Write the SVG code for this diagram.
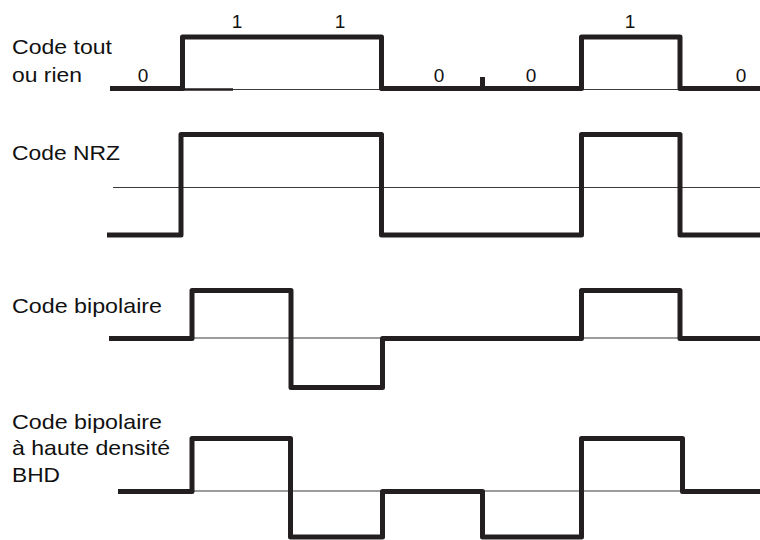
<svg xmlns="http://www.w3.org/2000/svg" width="760" height="540" viewBox="0 0 760 540">
<style>
.bg{fill:#ffffff}
.sig{fill:none;stroke:#231f20;stroke-width:5;stroke-linejoin:round;stroke-linecap:butt}
.ref{fill:none;stroke:#3a3a3a;stroke-width:1.2}
.lbl{font-family:"Liberation Sans",Arial,sans-serif;font-size:21px;fill:#111}
.bit{font-family:"Liberation Sans",Arial,sans-serif;font-size:19px;fill:#111;text-anchor:middle}
</style>
<rect class="bg" x="0" y="0" width="760" height="540"/>

<g id="row-tout-ou-rien">
  <text class="lbl" x="12" y="54" textLength="100" lengthAdjust="spacingAndGlyphs">Code tout</text>
  <text class="lbl" x="12" y="81.5" textLength="70" lengthAdjust="spacingAndGlyphs">ou rien</text>
  <line class="ref" x1="233" y1="89.5" x2="381" y2="89.5"/>
  <line x1="183" y1="89.5" x2="233" y2="89.5" stroke="#231f20" stroke-width="2.5"/>
  <line class="ref" x1="582" y1="89.5" x2="680" y2="89.5"/>
  <path class="sig" d="M110,88.5 H182.5 V37 H381.5 V88.5 H581.5 V37 H680 V88.5 H760"/>
  <line x1="482.5" y1="77" x2="482.5" y2="88" stroke="#231f20" stroke-width="5"/>
  <text class="bit" x="143" y="82">0</text>
  <text class="bit" x="237" y="27.5">1</text>
  <text class="bit" x="340" y="27.5">1</text>
  <text class="bit" x="439" y="82">0</text>
  <text class="bit" x="531" y="82">0</text>
  <text class="bit" x="630" y="27.5">1</text>
  <text class="bit" x="741" y="82">0</text>
</g>

<g id="row-nrz">
  <text class="lbl" x="12" y="160" textLength="108" lengthAdjust="spacingAndGlyphs">Code NRZ</text>
  <line class="ref" x1="113" y1="187.5" x2="760" y2="187.5"/>
  <path class="sig" d="M107,235 H181 V134.5 H381.5 V235 H581.5 V134.5 H680 V235 H760"/>
</g>

<g id="row-bipolaire">
  <text class="lbl" x="12" y="313" textLength="150" lengthAdjust="spacingAndGlyphs">Code bipolaire</text>
  <line class="ref" x1="192" y1="338" x2="382" y2="338"/>
  <line class="ref" x1="582" y1="338" x2="680" y2="338"/>
  <path class="sig" d="M109,338.5 H192 V290.5 H291 V387.5 H382.5 V338.5 H581.5 V290.5 H680 V338.5 H760"/>
</g>

<g id="row-bhd">
  <text class="lbl" x="12" y="429" textLength="150" lengthAdjust="spacingAndGlyphs">Code bipolaire</text>
  <text class="lbl" x="12" y="455" textLength="158" lengthAdjust="spacingAndGlyphs">à haute densité</text>
  <text class="lbl" x="12" y="482" textLength="48" lengthAdjust="spacingAndGlyphs">BHD</text>
  <line class="ref" x1="192" y1="491" x2="682" y2="491"/>
  <path class="sig" d="M118,491.5 H192 V438.5 H290.5 V537 H382.5 V491.5 H482.5 V537 H581.5 V438.5 H682.5 V491.5 H760"/>
</g>

<g id="connectors"></g>
</svg>
